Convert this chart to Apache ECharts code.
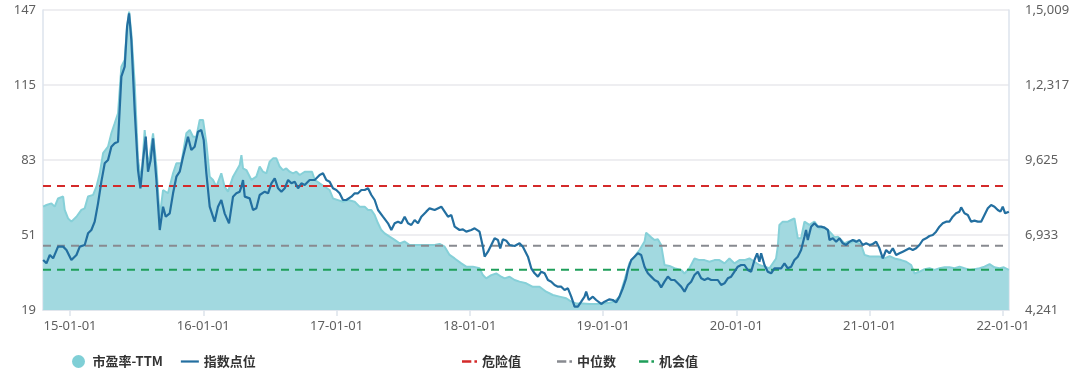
<!DOCTYPE html>
<html><head><meta charset="utf-8">
<script src="https://cdn.jsdelivr.net/npm/echarts@6/dist/echarts.min.js"></script>
<style>html,body{margin:0;padding:0;background:#fff}#c{width:1080px;height:384px}</style>
</head><body><div id="c"></div>
<script>
// x positions are decimal years
const peYears = [2014.798,2014.823,2014.860,2014.885,2014.910,2014.948,2014.960,2014.985,2015.010,2015.048,2015.085,2015.110,2015.135,2015.173,2015.198,2015.223,2015.248,2015.285,2015.310,2015.335,2015.360,2015.385,2015.410,2015.428,2015.443,2015.460,2015.485,2015.510,2015.535,2015.560,2015.585,2015.623,2015.648,2015.673,2015.698,2015.735,2015.773,2015.798,2015.835,2015.873,2015.898,2015.923,2015.948,2015.973,2015.998,2016.023,2016.048,2016.073,2016.098,2016.135,2016.160,2016.185,2016.223,2016.273,2016.286,2016.298,2016.323,2016.361,2016.398,2016.423,2016.448,2016.473,2016.498,2016.523,2016.548,2016.573,2016.598,2016.623,2016.648,2016.673,2016.698,2016.723,2016.761,2016.786,2016.816,2016.836,2016.873,2016.911,2016.948,2016.973,2017.011,2017.048,2017.086,2017.136,2017.173,2017.211,2017.236,2017.261,2017.286,2017.311,2017.336,2017.361,2017.398,2017.436,2017.473,2017.511,2017.548,2017.598,2017.636,2017.686,2017.736,2017.773,2017.811,2017.848,2017.886,2017.936,2017.973,2018.023,2018.073,2018.098,2018.123,2018.161,2018.198,2018.236,2018.261,2018.298,2018.336,2018.373,2018.423,2018.473,2018.523,2018.573,2018.623,2018.673,2018.723,2018.761,2018.798,2018.848,2018.898,2018.948,2018.998,2019.048,2019.086,2019.123,2019.161,2019.198,2019.236,2019.273,2019.311,2019.323,2019.361,2019.386,2019.411,2019.436,2019.461,2019.498,2019.536,2019.586,2019.611,2019.648,2019.686,2019.723,2019.761,2019.798,2019.836,2019.873,2019.911,2019.948,2019.986,2020.023,2020.061,2020.098,2020.136,2020.173,2020.211,2020.248,2020.298,2020.311,2020.323,2020.348,2020.386,2020.411,2020.436,2020.461,2020.486,2020.511,2020.548,2020.586,2020.623,2020.661,2020.687,2020.712,2020.737,2020.762,2020.787,2020.812,2020.837,2020.862,2020.887,2020.912,2020.937,2020.962,2021.000,2021.037,2021.075,2021.112,2021.150,2021.187,2021.237,2021.275,2021.312,2021.337,2021.375,2021.412,2021.450,2021.487,2021.525,2021.562,2021.600,2021.637,2021.675,2021.712,2021.750,2021.787,2021.825,2021.862,2021.900,2021.937,2021.975,2022.007,2022.045];
const peValues = [63.1,63.8,64.5,63.1,66.6,67.4,61.7,58.1,56.7,58.8,61.7,62.4,67.4,68.1,71.6,77.3,85.9,88.7,94.4,98.6,102.9,122.8,125.7,139.9,146.3,137.0,115.7,83.0,74.5,95.8,80.2,94.4,80.2,58.8,70.2,68.8,77.3,81.6,81.6,94.4,95.8,92.9,92.9,100.1,100.1,90.1,75.9,74.5,71.6,77.3,71.6,69.5,75.9,80.9,85.1,79.4,78.7,74.5,75.9,80.2,78.0,77.3,82.3,83.7,83.7,80.2,78.7,79.4,78.0,77.3,78.0,76.6,78.0,78.0,78.0,74.5,73.0,71.6,70.2,66.6,65.9,65.2,65.9,65.2,63.1,63.1,61.7,61.7,59.5,56.0,53.1,51.7,50.3,48.9,47.4,48.2,46.7,46.7,46.7,46.7,46.7,47.2,46.0,42.5,41.0,38.9,37.5,37.5,36.8,33.9,32.5,33.9,34.6,33.2,32.5,33.2,31.8,31.1,30.4,28.9,28.9,26.8,25.4,24.7,24.0,22.6,21.8,21.8,21.6,21.6,21.8,22.1,22.6,24.7,31.8,39.0,41.8,44.6,48.2,52.0,50.0,48.9,49.2,46.7,38.2,37.8,36.8,36.1,34.6,36.8,41.0,40.3,40.3,39.6,40.3,40.3,38.9,41.0,38.9,40.3,40.3,41.0,39.6,38.2,37.5,36.8,41.0,46.0,55.3,56.7,56.7,57.4,58.1,49.6,49.6,56.7,55.3,56.7,53.8,54.3,53.1,51.7,50.0,50.3,48.9,47.4,48.2,47.7,48.9,47.7,46.7,42.5,41.8,41.8,41.8,41.0,42.0,41.0,40.3,39.6,38.2,34.6,35.4,36.4,36.8,36.1,36.8,37.2,37.2,36.8,37.5,36.8,36.1,36.4,36.8,37.5,38.6,37.2,36.8,37.2,36.1];

const idxYears = [2014.798,2014.823,2014.848,2014.873,2014.910,2014.948,2014.973,2015.010,2015.048,2015.073,2015.110,2015.135,2015.160,2015.185,2015.210,2015.235,2015.260,2015.285,2015.310,2015.335,2015.360,2015.385,2015.410,2015.428,2015.443,2015.460,2015.485,2015.510,2015.528,2015.548,2015.568,2015.585,2015.605,2015.623,2015.648,2015.673,2015.698,2015.718,2015.748,2015.773,2015.798,2015.823,2015.848,2015.885,2015.910,2015.935,2015.960,2015.985,2016.003,2016.023,2016.048,2016.060,2016.085,2016.110,2016.135,2016.160,2016.193,2016.223,2016.248,2016.273,2016.286,2016.298,2016.311,2016.348,2016.373,2016.398,2016.423,2016.461,2016.486,2016.511,2016.536,2016.561,2016.586,2016.611,2016.636,2016.661,2016.686,2016.711,2016.736,2016.761,2016.798,2016.836,2016.873,2016.898,2016.923,2016.948,2016.973,2016.998,2017.023,2017.048,2017.073,2017.111,2017.136,2017.161,2017.186,2017.211,2017.236,2017.261,2017.286,2017.311,2017.348,2017.386,2017.411,2017.436,2017.461,2017.486,2017.511,2017.536,2017.561,2017.586,2017.611,2017.636,2017.673,2017.698,2017.736,2017.748,2017.786,2017.811,2017.836,2017.861,2017.886,2017.923,2017.948,2017.973,2018.011,2018.036,2018.073,2018.098,2018.111,2018.136,2018.161,2018.186,2018.211,2018.228,2018.248,2018.273,2018.298,2018.336,2018.373,2018.398,2018.436,2018.461,2018.486,2018.511,2018.536,2018.561,2018.586,2018.611,2018.636,2018.661,2018.686,2018.711,2018.736,2018.761,2018.786,2018.811,2018.836,2018.861,2018.873,2018.893,2018.923,2018.948,2018.986,2019.011,2019.048,2019.073,2019.098,2019.123,2019.148,2019.173,2019.186,2019.211,2019.236,2019.261,2019.286,2019.311,2019.336,2019.361,2019.386,2019.411,2019.436,2019.461,2019.486,2019.511,2019.536,2019.561,2019.586,2019.611,2019.636,2019.661,2019.686,2019.711,2019.736,2019.761,2019.786,2019.811,2019.836,2019.861,2019.886,2019.911,2019.936,2019.961,2019.986,2020.011,2020.036,2020.061,2020.086,2020.111,2020.136,2020.156,2020.173,2020.186,2020.211,2020.236,2020.261,2020.286,2020.311,2020.336,2020.361,2020.386,2020.411,2020.436,2020.461,2020.486,2020.511,2020.523,2020.536,2020.561,2020.586,2020.611,2020.636,2020.661,2020.687,2020.699,2020.724,2020.749,2020.774,2020.799,2020.824,2020.849,2020.874,2020.899,2020.924,2020.949,2020.974,2021.000,2021.024,2021.049,2021.074,2021.099,2021.124,2021.149,2021.174,2021.199,2021.224,2021.249,2021.274,2021.299,2021.324,2021.349,2021.374,2021.399,2021.424,2021.449,2021.474,2021.499,2021.524,2021.549,2021.574,2021.599,2021.624,2021.649,2021.674,2021.687,2021.712,2021.737,2021.762,2021.787,2021.812,2021.837,2021.862,2021.887,2021.912,2021.937,2021.962,2021.982,2021.999,2022.017,2022.045];
const idxValues = [6036,5916,6215,6096,6515,6515,6395,6036,6215,6515,6575,6993,7113,7412,8070,8847,9505,9625,10104,10223,10283,12616,12975,14411,14889,13931,11420,9266,8608,9625,10462,9206,9625,10403,8907,7113,7950,7591,7711,8429,9027,9206,9745,10462,9984,10104,10642,10702,10343,9147,7950,8010,7412,7950,8189,7711,7352,8309,8429,8489,8668,8907,8309,8249,7830,7890,8369,8488,8429,8788,8967,8608,8488,8608,8907,8788,8847,8608,8788,8728,8907,8907,9087,9146,8907,8847,8608,8548,8429,8189,8189,8309,8429,8429,8548,8548,8608,8369,8189,7830,7591,7352,7112,7352,7412,7352,7591,7352,7292,7471,7352,7591,7771,7890,7830,7854,7950,7771,7591,7651,7232,7113,7137,7053,7113,7172,7053,6514,6155,6335,6574,6813,6754,6454,6778,6730,6574,6538,6634,6514,6155,5737,5557,5438,5617,5557,5318,5258,5138,5079,5079,4959,5019,4720,4361,4361,4540,4720,4899,4600,4720,4600,4457,4540,4624,4600,4516,4720,5019,5378,5677,6035,6155,6275,6215,5796,5557,5438,5318,5258,5055,5258,5438,5318,5318,5198,5079,4899,5138,5258,5497,5617,5378,5318,5378,5318,5318,5318,5138,5198,5378,5438,5617,5796,5856,5856,5677,5617,6035,6275,5976,6275,5856,5617,5557,5737,5737,5737,5916,5737,5796,6035,6155,6395,6873,7113,6754,7232,7352,7232,7232,7196,7113,6754,6813,6694,6813,6634,6574,6694,6754,6694,6754,6574,6634,6574,6610,6694,6455,6095,6395,6275,6455,6215,6275,6335,6395,6455,6395,6455,6574,6754,6813,6897,6933,7053,7232,7352,7412,7412,7591,7711,7771,7926,7711,7651,7412,7447,7412,7412,7651,7890,8010,7950,7830,7771,7950,7711,7771];

const dangerValue = 71.9;
const medianValue = 46.4;
const chanceValue = 36.2;

const xTickYears = [2015,2016,2017,2018,2019,2020,2021,2022];
const xTickLabels = ['15-01-01','16-01-01','17-01-01','18-01-01','19-01-01','20-01-01','21-01-01','22-01-01'];
const leftTicks = [19,51,83,115,147];
const rightTicks = [4241,6933,9625,12317,15009];
const rightTickLabels = ['4,241','6,933','9,625','1,2,317','1,5,009'];

const xMin = 2014.797, xMax = 2022.046;
const peData = peYears.map((t,i)=>[t,peValues[i]]);
const idxData = idxYears.map((t,i)=>[t,idxValues[i]]);
const hLine = v => [[xMin, v],[xMax, v]];

const axisColor = '#dde3ec';
const labelColor = '#606060';
const lineIcon = 'path://M0,0 L18,0 L18,2.2 L0,2.2 Z';
const dashIcon = 'path://M0,0 L9,0 L9,2.2 L0,2.2 Z M12,0 L14.5,0 L14.5,2.2 L12,2.2 Z';
const legendText = {fontSize: 13, fontWeight: 'bold', color: '#333', fontFamily: 'Noto Sans CJK SC'};
const legendBase = {top: 350, itemHeight: 13, itemGap: 18, textStyle: legendText};

const chart = echarts.init(document.getElementById('c'), null, {renderer:'canvas'});
chart.setOption({
  animation: false,
  backgroundColor: '#fff',
  grid: {left: 43, right: 71, top: 10, bottom: 74, containLabel: false},
  legend: [
    Object.assign({left: 67, itemWidth: 18, data: [{name: '市盈率-TTM', icon: 'circle'}, {name: '指数点位', icon: lineIcon}]}, legendBase),
    Object.assign({left: 457, itemWidth: 15, data: [{name: '危险值', icon: dashIcon}]}, legendBase),
    Object.assign({left: 552, itemWidth: 15, data: [{name: '中位数', icon: dashIcon}]}, legendBase),
    Object.assign({left: 634, itemWidth: 15, data: [{name: '机会值', icon: dashIcon}]}, legendBase)
  ],
  xAxis: {
    type: 'value', min: xMin, max: xMax,
    axisLine: {show: true, lineStyle: {color: axisColor, width: 1.5}},
    axisTick: {show: true, customValues: xTickYears, length: 6, lineStyle: {color: axisColor, width: 1.5}},
    axisLabel: {customValues: xTickYears, color: labelColor, fontSize: 13, margin: 10, fontFamily: 'Noto Sans',
      formatter: v => xTickLabels[xTickYears.indexOf(Math.round(v))] || ''},
    splitLine: {show: false}
  },
  yAxis: [
    {type: 'value', min: leftTicks[0], max: leftTicks[4], interval: 32, position: 'left',
     axisLine: {show: true, lineStyle: {color: axisColor, width: 1.5}},
     axisTick: {show: false},
     axisLabel: {color: labelColor, fontSize: 13, margin: 7, fontFamily: 'Noto Sans'},
     splitLine: {show: true, lineStyle: {color: '#e8e8ec', width: 1.5}}},
    {type: 'value', min: rightTicks[0], max: rightTicks[4], interval: 2692, position: 'right',
     axisLine: {show: true, lineStyle: {color: axisColor, width: 1.5}},
     axisTick: {show: false},
     axisLabel: {color: labelColor, fontSize: 13, margin: 16, fontFamily: 'Noto Sans',
       formatter: v => rightTickLabels[rightTicks.indexOf(Math.round(v))] || ''},
     splitLine: {show: false}}
  ],
  series: [
    {name: '市盈率-TTM', type: 'line', yAxisIndex: 0, data: peData, showSymbol: false, symbol: 'none',
     itemStyle: {color: '#7fcfd6'},
     lineStyle: {color: '#86d0d8', width: 2},
     areaStyle: {color: '#a2d9e0', opacity: 1}, z: 1},
    {name: '危险值', type: 'line', yAxisIndex: 0, data: hLine(dangerValue), symbol: 'none',
     itemStyle: {color: '#d42a2a'}, lineStyle: {color: '#d42a2a', width: 2, type: [8, 6]}, z: 2},
    {name: '中位数', type: 'line', yAxisIndex: 0, data: hLine(medianValue), symbol: 'none',
     itemStyle: {color: '#888a90'}, lineStyle: {color: '#888a90', width: 2, type: [8, 6]}, z: 2},
    {name: '机会值', type: 'line', yAxisIndex: 0, data: hLine(chanceValue), symbol: 'none',
     itemStyle: {color: '#1f9e5a'}, lineStyle: {color: '#1f9e5a', width: 2, type: [8, 6]}, z: 2},
    {name: '指数点位', type: 'line', yAxisIndex: 1, data: idxData, showSymbol: false, symbol: 'none',
     itemStyle: {color: '#236fa0'}, lineStyle: {color: '#236fa0', width: 2.2}, z: 3}
  ]
});
</script></body></html>
